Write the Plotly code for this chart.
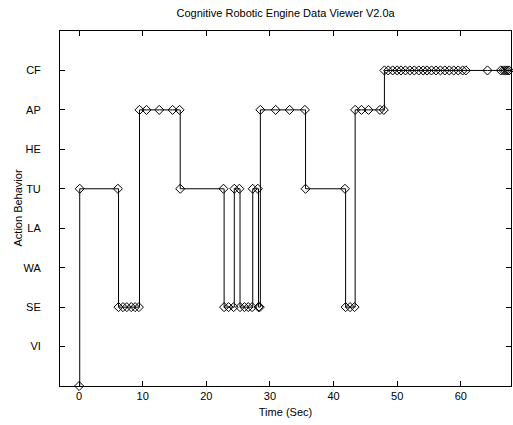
import plotly.graph_objects as go

# Behaviour category labels (y levels 1..8)
behaviors = ["VI", "SE", "WA", "LA", "TU", "HE", "AP", "CF"]
levels = [1, 2, 3, 4, 5, 6, 7, 8]

# Recorded samples: time (s) and behaviour level (0 = start)
times = [0.0, 0.1, 6.1, 6.2, 6.9, 7.5, 8.2, 8.8, 9.4,
         9.5, 10.6, 12.6, 14.7, 15.8,
         15.9, 22.7,
         22.8, 23.5, 24.3,
         24.4, 25.2,
         25.3, 26.0, 26.6, 27.2,
         27.3, 28.1,
         28.2, 28.4,
         28.5, 30.9, 33.1, 35.5,
         35.6, 41.8,
         41.9, 42.6, 43.3,
         43.4, 44.4, 45.5, 47.3, 47.9,
         48.0, 48.6, 49.3, 50.0, 50.6, 51.3, 52.0, 52.7, 53.4, 54.1,
         54.7, 55.4, 56.1, 56.8, 57.5, 58.2, 58.9, 59.6, 60.3, 60.8,
         64.2, 66.3, 66.7, 67.0, 67.3, 67.6]
states = [0, 5, 5, 2, 2, 2, 2, 2, 2,
          7, 7, 7, 7, 7,
          5, 5,
          2, 2, 2,
          5, 5,
          2, 2, 2, 2,
          5, 5,
          2, 2,
          7, 7, 7, 7,
          5, 5,
          2, 2, 2,
          7, 7, 7, 7, 7,
          8, 8, 8, 8, 8, 8, 8, 8, 8, 8,
          8, 8, 8, 8, 8, 8, 8, 8, 8, 8,
          8, 8, 8, 8, 8, 8]

x_ticks = [0, 10, 20, 30, 40, 50, 60]

fig = go.Figure()
fig.add_trace(go.Scatter(
    x=times, y=states,
    mode="lines+markers",
    line=dict(color="black", width=1, shape="hv"),
    marker=dict(symbol="diamond-open", size=7, color="black",
                line=dict(color="black", width=1)),
    showlegend=False,
    cliponaxis=False,
))

font = dict(family="Liberation Sans, Arial, sans-serif", size=11, color="black")

fig.update_layout(
    width=513, height=425,
    margin=dict(l=60, r=2, t=31, b=39, autoexpand=False),
    paper_bgcolor="white", plot_bgcolor="white",
    font=font,
    title=dict(text="Cognitive Robotic Engine Data Viewer V2.0a",
               x=0.5567, xanchor="center", y=0.969, yanchor="middle",
               font=font),
    xaxis=dict(
        range=[-3, 67.9], tickvals=x_ticks,
        ticks="inside", ticklen=5, tickcolor="black",
        showline=True, linecolor="black", linewidth=1, mirror="ticks",
        showgrid=False, zeroline=False, automargin=False,
        title=dict(text="Time (Sec)", standoff=7, font=font),
    ),
    yaxis=dict(
        range=[0, 9], tickvals=levels, ticktext=behaviors,
        ticks="inside", ticklen=5, tickcolor="black",
        showline=True, linecolor="black", linewidth=1, mirror="ticks",
        showgrid=False, zeroline=False, automargin=False,
        ticklabelstandoff=16,
    ),
    annotations=[dict(
        text="Action Behavior", textangle=-90, showarrow=False,
        xref="paper", yref="paper", x=(17 - 60) / 451, y=0.5,
        xanchor="center", yanchor="middle", font=font,
    )],
)

fig.write_html("out.html", config={"displayModeBar": False},
               post_script="document.body.style.margin='0';")
